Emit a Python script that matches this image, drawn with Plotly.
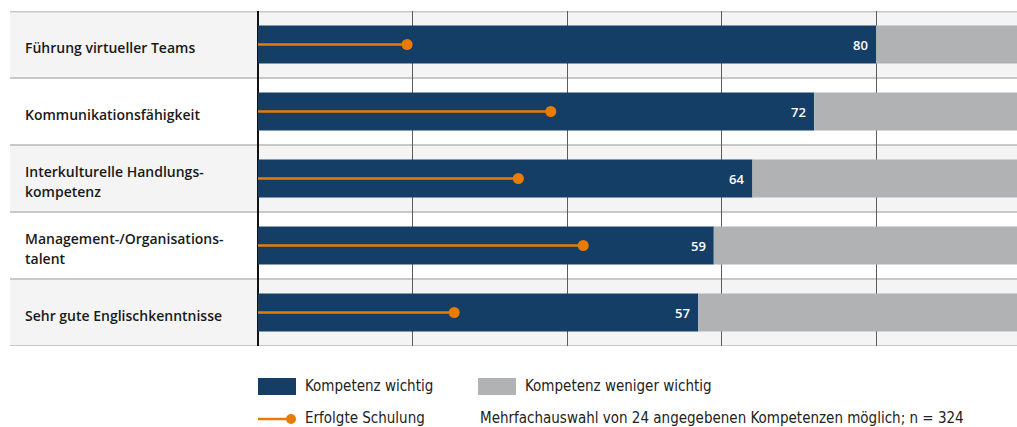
import plotly.graph_objects as go

# Kompetenzen (top to bottom)
categories = [
    "Führung virtueller Teams",
    "Kommunikationsfähigkeit",
    "Interkulturelle Handlungs-<br>kompetenz",
    "Management-/Organisations-<br>talent",
    "Sehr gute Englischkenntnisse",
]
important = [80, 72, 64, 59, 57]            # Kompetenz wichtig (%)
less_important = [20, 28, 36, 41, 43]       # Kompetenz weniger wichtig (%)
training = [19.3, 37.9, 33.7, 42.1, 25.4]   # Erfolgte Schulung (%)
x_ticks = [0, 20, 40, 60, 80, 100]
note = "Mehrfachauswahl von 24 angegebenen Kompetenzen möglich; n = 324"

NAVY = "#153e66"
GREY = "#b1b2b4"
ORANGE = "#e87c00"
ROW_BG = "#f4f4f4"
SEP = "#c8c8c8"

LABEL_FONT = "Open Sans, DejaVu Sans, sans-serif"
NARROW_FONT = "DejaVu Sans Condensed, Liberation Sans Narrow, Roboto, sans-serif"

W, H = 1017, 427
ML, MR, MT, MB = 258, 0, 11, 81
plot_w = W - ML - MR
plot_h = H - MT - MB


def px_x(px):
    return (px - ML) / plot_w


def px_y(py):
    return (H - MB - py) / plot_h


ypos = list(range(len(categories)))

fig = go.Figure()

fig.add_trace(go.Bar(
    y=ypos, x=important, orientation="h", name="Kompetenz wichtig",
    marker=dict(color=NAVY, line=dict(width=0)), width=0.57,
    hoverinfo="x",
))
fig.add_trace(go.Bar(
    y=ypos, x=less_important, base=important, orientation="h",
    name="Kompetenz weniger wichtig",
    marker=dict(color=GREY, line=dict(width=0)), width=0.57,
    hoverinfo="x",
))

# training lines from zero to the value, dot at the end
line_x, line_y = [], []
for yi, v in zip(ypos, training):
    line_x += [0, v, None]
    line_y += [yi, yi, None]
fig.add_trace(go.Scatter(
    x=line_x, y=line_y, mode="lines", line=dict(color=ORANGE, width=2.5),
    hoverinfo="skip", showlegend=False,
))
fig.add_trace(go.Scatter(
    x=training, y=ypos, mode="markers", name="Erfolgte Schulung",
    marker=dict(color=ORANGE, size=11, line=dict(width=0)),
))

shapes = []
annotations = []
left = px_x(10)

# alternating row backgrounds and separators
for i in ypos:
    if i % 2 == 0:
        shapes.append(dict(type="rect", xref="paper", yref="y", x0=left, x1=1,
                           y0=i - 0.5, y1=i + 0.5, fillcolor=ROW_BG,
                           line=dict(width=0), layer="below"))
for i in range(len(categories) + 1):
    shapes.append(dict(type="line", xref="paper", yref="y", x0=left, x1=1,
                       y0=i - 0.5, y1=i - 0.5,
                       line=dict(color=SEP, width=3 if i == 0 else 2),
                       layer="below"))

# category labels, one annotation per text line for even line spacing
LINE_GAP = 20.5
for i, c in enumerate(categories):
    parts = c.split("<br>")
    n = len(parts)
    for j, part in enumerate(parts):
        annotations.append(dict(
            x=px_x(23), xref="paper", y=i, yref="y", text=part,
            showarrow=False, xanchor="left", yanchor="middle", align="left",
            yshift=-3 - (j - (n - 1) / 2) * LINE_GAP,
            font=dict(family=LABEL_FONT, size=14, color="#1a1a1a", weight=600),
        ))

# value labels inside the bars
for i, v in enumerate(important):
    annotations.append(dict(
        x=v, xref="x", y=i, yref="y", text=str(v), showarrow=False,
        xanchor="right", yanchor="middle", xshift=-6,
        font=dict(family=LABEL_FONT, size=13, color="white", weight=600),
    ))

# legend
y1 = px_y(386)
y2 = px_y(418)
shapes.append(dict(type="rect", xref="paper", yref="paper",
                   x0=px_x(258), x1=px_x(296), y0=px_y(378), y1=px_y(395),
                   fillcolor=NAVY, line=dict(width=0)))
shapes.append(dict(type="rect", xref="paper", yref="paper",
                   x0=px_x(478), x1=px_x(516), y0=px_y(378), y1=px_y(395),
                   fillcolor=GREY, line=dict(width=0)))
shapes.append(dict(type="line", xref="paper", yref="paper",
                   x0=px_x(258), x1=px_x(290), y0=px_y(419), y1=px_y(419),
                   line=dict(color=ORANGE, width=2.5)))
shapes.append(dict(type="circle", xref="paper", yref="paper",
                   x0=px_x(286), x1=px_x(296), y0=px_y(424), y1=px_y(414),
                   fillcolor=ORANGE, line=dict(width=0)))

legend_font = dict(family=NARROW_FONT, size=15, color="#222222")
for xp, yp, txt in [(303, y1, "Kompetenz wichtig"),
                    (523, y1, "Kompetenz weniger wichtig"),
                    (303, y2, "Erfolgte Schulung"),
                    (478, y2, note)]:
    annotations.append(dict(x=px_x(xp), xref="paper", y=yp, yref="paper",
                            text=txt, showarrow=False, xanchor="left",
                            yanchor="middle", font=legend_font))

fig.update_layout(
    width=W, height=H,
    margin=dict(l=ML, r=MR, t=MT, b=MB, pad=0),
    paper_bgcolor="white", plot_bgcolor="rgba(0,0,0,0)",
    barmode="overlay", showlegend=False,
    shapes=shapes, annotations=annotations,
    xaxis=dict(range=[0, 98.25], tickvals=x_ticks, showticklabels=False,
               showgrid=True, gridcolor="#5c5c5c", gridwidth=1,
               zeroline=True, zerolinecolor="#111111", zerolinewidth=1.5,
               showline=False, fixedrange=True),
    yaxis=dict(range=[len(categories) - 0.5, -0.5], showticklabels=False,
               showgrid=False, zeroline=False, showline=False,
               fixedrange=True),
)

fig.write_html("out.html")
